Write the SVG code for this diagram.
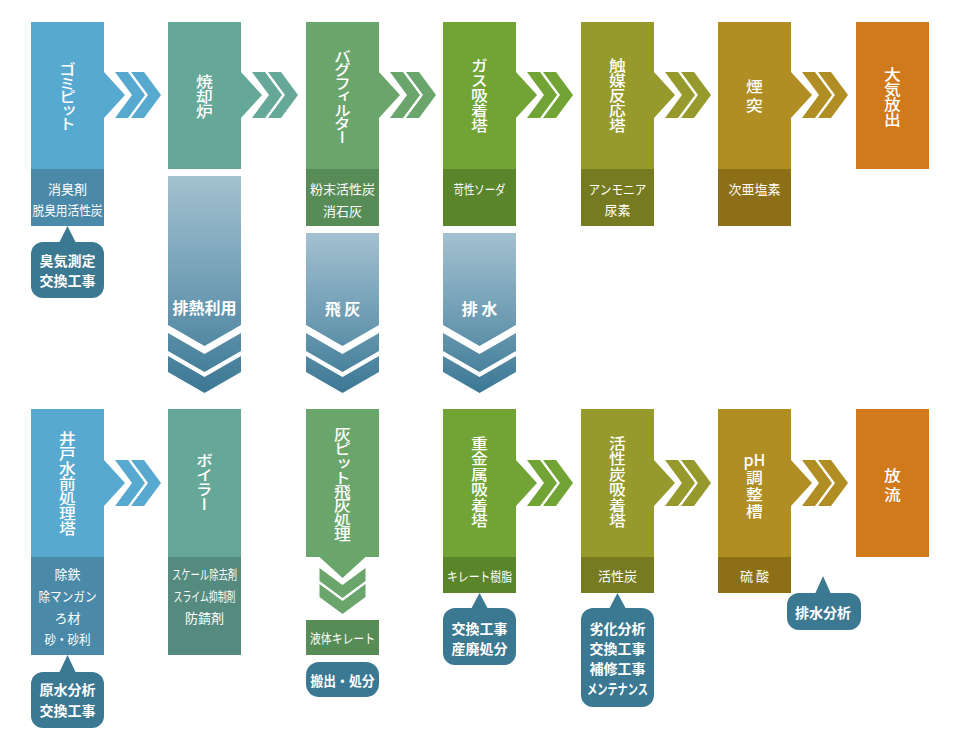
<svg xmlns="http://www.w3.org/2000/svg" xmlns:xlink="http://www.w3.org/1999/xlink" width="960" height="750" viewBox="0 0 960 750">
<defs>
<style>
.t{font-family:"Noto Sans CJK JP","Noto Sans",sans-serif;fill:#fff;text-anchor:middle;dominant-baseline:central}
.v{writing-mode:vertical-rl;font-size:15px;font-weight:500;letter-spacing:0px}
.k{letter-spacing:-1.5px}
.w{letter-spacing:4.5px}
.s{font-size:13px}
.c{font-size:14px;font-weight:bold}
.a{font-size:16px;font-weight:bold}
.co{fill:#3b7892}
</style>
<path id="ch" d="M11,-23H24L41,0L24,23H11L28,0Z M27,-23H40L57,0L40,23H27L44,0Z"/>
<linearGradient id="gd" x1="0" y1="0" x2="0" y2="1">
<stop offset="0" stop-color="#a3c1d0"/>
<stop offset="0.55" stop-color="#6c9bb2"/>
<stop offset="1" stop-color="#3b7794"/>
</linearGradient>
</defs>
<rect width="960" height="750" fill="#fff"/>

<g id="connectors">
<use href="#ch" x="104" y="95" fill="#58a9cf"/>
<use href="#ch" x="241" y="95" fill="#66a898"/>
<use href="#ch" x="379" y="95" fill="#6aa56b"/>
<use href="#ch" x="516" y="95" fill="#71a434"/>
<use href="#ch" x="654" y="95" fill="#969a2c"/>
<use href="#ch" x="791" y="95" fill="#b08e23"/>
<use href="#ch" x="104" y="483" fill="#58a9cf"/>
<use href="#ch" x="516" y="483" fill="#71a434"/>
<use href="#ch" x="654" y="483" fill="#969a2c"/>
<use href="#ch" x="791" y="483" fill="#b08e23"/>
<use href="#ch" transform="translate(342.5,557) rotate(90)" fill="#6aa56b"/>
<g id="down-heat">
<path fill="url(#gd)" d="M168,176H241V325L204.5,346L168,325Z M168,333L204.5,354L241,333V351L204.5,372L168,351Z M168,356L204.5,377L241,356V372L204.5,393L168,372Z"/>
<text class="t a" x="204.5" y="307">排熱利用</text>
</g>
<g id="down-ash">
<path fill="url(#gd)" d="M306,233H379V325L342.5,346L306,325Z M306,333L342.5,354L379,333V351L342.5,372L306,351Z M306,356L342.5,377L379,356V372L342.5,393L306,372Z"/>
<text class="t a" x="342.5" y="308">飛 灰</text>
</g>
<g id="down-water">
<path fill="url(#gd)" d="M443,233H516V325L479.5,346L443,325Z M443,333L479.5,354L516,333V351L479.5,372L443,351Z M443,356L479.5,377L516,356V372L479.5,393L443,372Z"/>
<text class="t a" x="479.5" y="308">排 水</text>
</g>
</g>

<g id="gomi-pit">
<path fill="#58a9cf" d="M31,22H104V72L125,95L104,118V169H31Z"/>
<rect x="31" y="169" width="73" height="57" fill="#4a8aa8"/>
<text class="t v k" transform="translate(67.5,96) scale(1.12,1)">ゴミピット</text>
<text class="t s" x="67.5" y="188">消臭剤</text>
<text class="t s" x="67.5" y="209" textLength="70" lengthAdjust="spacingAndGlyphs">脱臭用活性炭</text>
</g>
<g id="callout-odor">
<rect class="co" x="31" y="242" width="73" height="56" rx="12"/>
<polygon class="co" points="59,243 67.5,226 76,243"/>
<text class="t c" x="67.5" y="260">臭気測定</text>
<text class="t c" x="67.5" y="280">交換工事</text>
</g>
<g id="incinerator">
<path fill="#66a898" d="M168,22H241V72L262,95L241,118V169H168Z"/>
<text class="t v" transform="translate(204.5,96) scale(1.12,1)">焼却炉</text>
</g>
<g id="bag-filter">
<path fill="#6aa56b" d="M306,22H379V72L400,95L379,118V169H306Z"/>
<rect x="306" y="169" width="73" height="57" fill="#578c56"/>
<text class="t v k" transform="translate(342.5,96) scale(1.12,1)">バグフィルター</text>
<text class="t s" x="342.5" y="188">粉末活性炭</text>
<text class="t s" x="342.5" y="210">消石灰</text>
</g>
<g id="gas-absorber">
<path fill="#71a434" d="M443,22H516V72L537,95L516,118V169H443Z"/>
<rect x="443" y="169" width="73" height="57" fill="#5a852a"/>
<text class="t v" transform="translate(479.5,95) scale(1.12,1)">ガス吸着塔</text>
<text class="t s" x="479.5" y="188" textLength="52" lengthAdjust="spacingAndGlyphs">苛性ソーダ</text>
</g>
<g id="catalyst">
<path fill="#969a2c" d="M581,22H654V72L675,95L654,118V169H581Z"/>
<rect x="581" y="169" width="73" height="57" fill="#767b21"/>
<text class="t v" transform="translate(617.5,95) scale(1.12,1)">触媒反応塔</text>
<text class="t s" x="617.5" y="188" textLength="58" lengthAdjust="spacingAndGlyphs">アンモニア</text>
<text class="t s" x="617.5" y="209">尿素</text>
</g>
<g id="chimney">
<path fill="#b08e23" d="M718,22H791V72L812,95L791,118V169H718Z"/>
<rect x="718" y="169" width="73" height="57" fill="#8d6f17"/>
<text class="t v w" transform="translate(754.5,98) scale(1.12,1)">煙突</text>
<text class="t s" x="754.5" y="188">次亜塩素</text>
</g>
<g id="atmosphere">
<rect x="856" y="22" width="73" height="147" fill="#d07a1b"/>
<text class="t v" transform="translate(892.5,97) scale(1.12,1)">大気放出</text>
</g>

<g id="well-water">
<path fill="#58a9cf" d="M31,409H104V460L125,483L104,506V557H31Z"/>
<rect x="31" y="557" width="73" height="98" fill="#4a8aa8"/>
<text class="t v" transform="translate(67.5,483) scale(1.12,1)">井戸水前処理塔</text>
<text class="t s" x="67.5" y="573">除鉄</text>
<text class="t s" x="67.5" y="595" textLength="58" lengthAdjust="spacingAndGlyphs">除マンガン</text>
<text class="t s" x="67.5" y="617">ろ材</text>
<text class="t s" x="67.5" y="638" textLength="46" lengthAdjust="spacingAndGlyphs">砂・砂利</text>
</g>
<g id="callout-raw">
<rect class="co" x="31" y="672" width="73" height="56" rx="12"/>
<polygon class="co" points="59,673 67.5,655 76,673"/>
<text class="t c" x="67.5" y="689">原水分析</text>
<text class="t c" x="67.5" y="710">交換工事</text>
</g>
<g id="boiler">
<rect x="168" y="409" width="73" height="148" fill="#66a898"/>
<rect x="168" y="557" width="73" height="98" fill="#558b7e"/>
<text class="t v" style="letter-spacing:-0.5px" transform="translate(204.5,482) scale(1.12,1)">ボイラー</text>
<text class="t s" x="204.5" y="573" textLength="65" lengthAdjust="spacingAndGlyphs">スケール除去剤</text>
<text class="t s" x="204.5" y="595" textLength="62" lengthAdjust="spacingAndGlyphs">スライム抑制剤</text>
<text class="t s" x="204.5" y="617">防錆剤</text>
</g>
<g id="ash-pit">
<path fill="#6aa56b" d="M306,409H379V557H365.5L342.5,578L319.5,557H306Z"/>
<text class="t v" style="letter-spacing:-0.7px" transform="translate(342.5,484) scale(1.12,1)">灰ピット飛灰処理</text>
</g>
<g id="liquid-chelate">
<rect x="306" y="620" width="73" height="35" fill="#578c56"/>
<text class="t s" x="342.5" y="637.5" textLength="65" lengthAdjust="spacingAndGlyphs">液体キレート</text>
</g>
<g id="callout-disposal">
<rect class="co" x="306" y="662" width="73" height="35" rx="13"/>
<text class="t c" x="342.5" y="680" textLength="64" lengthAdjust="spacingAndGlyphs">搬出・処分</text>
</g>
<g id="heavy-metal">
<path fill="#71a434" d="M443,409H516V460L537,483L516,506V557H443Z"/>
<rect x="443" y="557" width="73" height="36" fill="#5a852a"/>
<text class="t v" style="letter-spacing:0.5px" transform="translate(479.5,482) scale(1.12,1)">重金属吸着塔</text>
<text class="t s" x="479.5" y="575" textLength="65" lengthAdjust="spacingAndGlyphs">キレート樹脂</text>
</g>
<g id="callout-heavy">
<rect class="co" x="443" y="608" width="73" height="57" rx="12"/>
<polygon class="co" points="471,609 479.5,593 488,609"/>
<text class="t c" x="479.5" y="628">交換工事</text>
<text class="t c" x="479.5" y="648">産廃処分</text>
</g>
<g id="carbon">
<path fill="#969a2c" d="M581,409H654V460L675,483L654,506V557H581Z"/>
<rect x="581" y="557" width="73" height="36" fill="#767b21"/>
<text class="t v" style="letter-spacing:0.5px" transform="translate(617.5,482) scale(1.12,1)">活性炭吸着塔</text>
<text class="t s" x="617.5" y="575">活性炭</text>
</g>
<g id="callout-carbon">
<rect class="co" x="581" y="608" width="73" height="99" rx="12"/>
<polygon class="co" points="609,609 617.5,593 626,609"/>
<text class="t c" x="617.5" y="628">劣化分析</text>
<text class="t c" x="617.5" y="648">交換工事</text>
<text class="t c" x="617.5" y="668">補修工事</text>
<text class="t c" x="617.5" y="688" textLength="61" lengthAdjust="spacingAndGlyphs">メンテナンス</text>
</g>
<g id="ph-tank">
<path fill="#b08e23" d="M718,409H791V460L812,483L791,506V557H718Z"/>
<rect x="718" y="557" width="73" height="36" fill="#8d6f17"/>
<text class="t" style="font-size:16px;font-weight:500" x="754.5" y="459">pH</text>
<text class="t v" style="letter-spacing:2px" transform="translate(754.5,495) scale(1.12,1)">調整槽</text>
<text class="t s" x="754.5" y="575">硫 酸</text>
</g>
<g id="callout-wastewater">
<rect class="co" x="787" y="593" width="74" height="37" rx="12"/>
<polygon class="co" points="815,594 823,576 831,594"/>
<text class="t c" x="823" y="612">排水分析</text>
</g>
<g id="discharge">
<rect x="856" y="409" width="73" height="148" fill="#d07a1b"/>
<text class="t v w" transform="translate(892.5,487) scale(1.12,1)">放流</text>
</g>
</svg>
